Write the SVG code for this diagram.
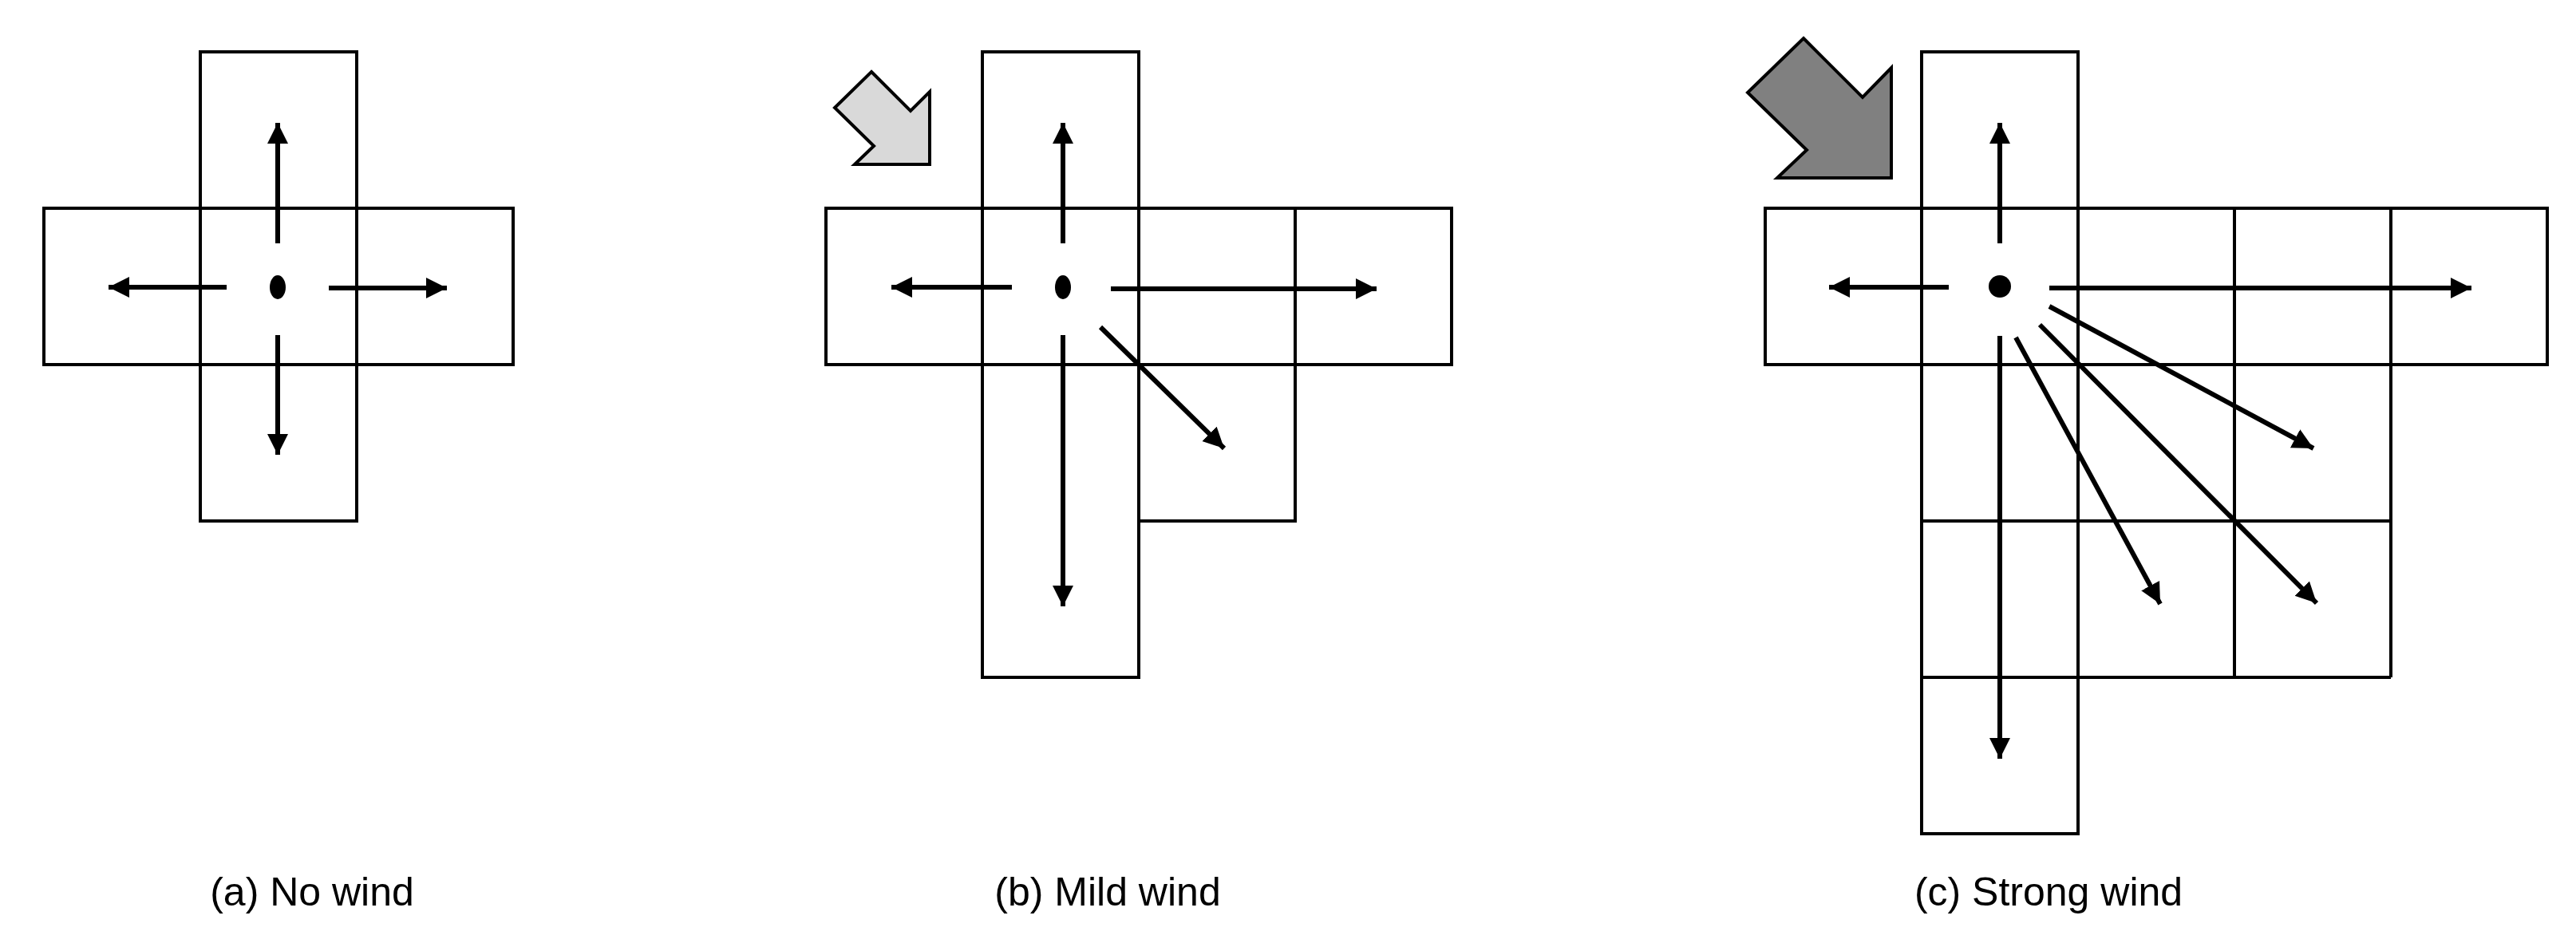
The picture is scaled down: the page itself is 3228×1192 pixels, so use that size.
<svg xmlns="http://www.w3.org/2000/svg" width="3228" height="1192" viewBox="0 0 3228 1192">
<style>
.c{fill:none;stroke:#000;stroke-width:4}
.a{stroke:#000;stroke-width:6;fill:none;marker-end:url(#ah)}
.w{stroke:#000;stroke-width:4;stroke-linejoin:miter}
.t{font-family:"Liberation Sans",Arial,sans-serif;font-size:50px;text-anchor:middle;fill:#000}
</style>
<defs>
<marker id="ah" markerUnits="userSpaceOnUse" markerWidth="28" markerHeight="28" refX="26" refY="13" orient="auto" viewBox="0 0 28 28"><path d="M0,0 L26,13 L0,26 z" fill="#000"/></marker>
</defs>
<rect width="3228" height="1192" fill="#fff"/>
<g id="panel-a">
<rect class="c" x="251" y="65" width="196" height="588"/>
<rect class="c" x="55" y="261" width="588" height="196"/>
<ellipse cx="348" cy="360" rx="10" ry="15" fill="#000"/>
<text class="t" x="391" y="1135">(a) No wind</text>
</g>
<g id="panel-b">
<path class="w" fill="#d9d9d9" d="M1092,90 L1141,139 L1165,115 L1165,206 L1071,206 L1095,183 L1046,135 Z"/>
<rect class="c" x="1231" y="65" width="196" height="784"/>
<rect class="c" x="1035" y="261" width="784" height="196"/>
<line class="c" x1="1623" y1="261" x2="1623" y2="457"/>
<rect class="c" x="1427" y="457" width="196" height="196"/>
<ellipse cx="1332" cy="360" rx="10" ry="15" fill="#000"/>
<text class="t" x="1388" y="1135">(b) Mild wind</text>
</g>
<g id="panel-c">
<path class="w" fill="#808080" d="M2260,48 L2334,122 L2370,85 L2370,223 L2227,223 L2264,188 L2190,116 Z"/>
<rect class="c" x="2408" y="65" width="196" height="980"/>
<rect class="c" x="2212" y="261" width="980" height="196"/>
<line class="c" x1="2800" y1="261" x2="2800" y2="849"/>
<line class="c" x1="2996" y1="261" x2="2996" y2="849"/>
<line class="c" x1="2604" y1="849" x2="2996" y2="849"/>
<line class="c" x1="2408" y1="653" x2="2996" y2="653"/>
<line class="c" x1="2408" y1="849" x2="2604" y2="849"/>
<circle cx="2506" cy="359" r="14" fill="#000"/>
<text class="t" x="2567" y="1135">(c) Strong wind</text>
</g>
<g id="connectors">
<line class="a" x1="348" y1="305" x2="348" y2="154"/>
<line class="a" x1="284" y1="360" x2="136" y2="360"/>
<line class="a" x1="412" y1="361" x2="560" y2="361"/>
<line class="a" x1="348" y1="420" x2="348" y2="570"/>
<line class="a" x1="1332" y1="305" x2="1332" y2="154"/>
<line class="a" x1="1268" y1="360" x2="1117" y2="360"/>
<line class="a" x1="1392" y1="362" x2="1725" y2="362"/>
<line class="a" x1="1332" y1="420" x2="1332" y2="760"/>
<line class="a" x1="1379" y1="410" x2="1534" y2="562"/>
<line class="a" x1="2506" y1="305" x2="2506" y2="154"/>
<line class="a" x1="2442" y1="360" x2="2292" y2="360"/>
<line class="a" x1="2568" y1="361" x2="3097" y2="361"/>
<line class="a" x1="2506" y1="421" x2="2506" y2="951"/>
<line class="a" x1="2568" y1="384" x2="2899" y2="562"/>
<line class="a" x1="2556" y1="407" x2="2903" y2="756"/>
<line class="a" x1="2526" y1="423" x2="2707" y2="757"/>
</g>
</svg>
